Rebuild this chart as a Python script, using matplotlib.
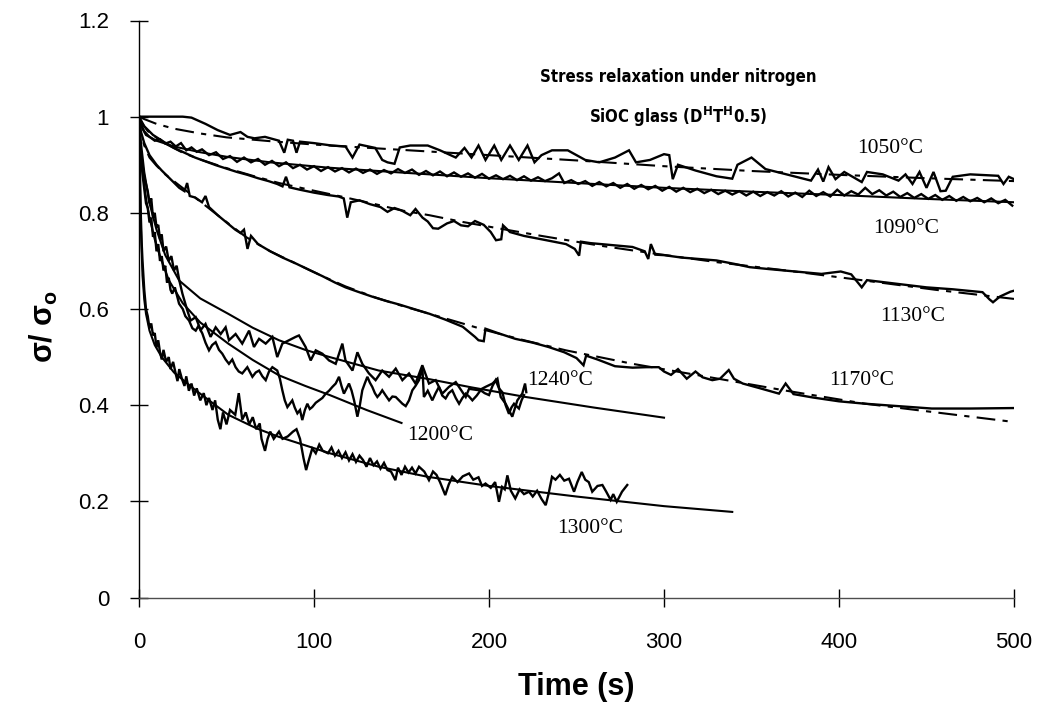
import matplotlib
matplotlib.use("Agg")
import matplotlib.pyplot as plt
from matplotlib import font_manager
from matplotlib.font_manager import FontProperties

# ---------------- data ----------------
x_ticks = [0, 100, 200, 300, 400, 500]
x_tick_labels = ["0", "100", "200", "300", "400", "500"]
y_ticks = [0, 0.2, 0.4, 0.6, 0.8, 1.0, 1.2]
y_tick_labels = ["0", "0.2", "0.4", "0.6", "0.8", "1", "1.2"]

# 1050 C
t1050_exp = [0, 10, 25, 30, 38, 45, 52, 58, 62, 66, 72, 80, 83, 85, 88, 90, 92, 100, 110, 118, 122, 126,
             135, 139, 142, 146, 149, 155, 165, 172, 181, 186, 190, 194, 198, 203, 207, 212, 217, 222, 226,
             230, 236, 245, 255, 263, 272, 280, 284, 292, 300, 303, 305, 308, 318, 330, 339, 342, 350, 358,
             370, 384, 388, 391, 394, 398, 403, 413, 416, 425, 434, 438, 442, 446, 450, 454, 458, 461, 465,
             475, 491, 494, 497, 500]
y1050_exp = [1.0, 1.0, 1.0, 0.998, 0.985, 0.972, 0.962, 0.968, 0.958, 0.955, 0.958, 0.95, 0.925, 0.952, 0.95,
             0.925, 0.948, 0.945, 0.94, 0.938, 0.915, 0.942, 0.935, 0.91, 0.905, 0.902, 0.936, 0.94, 0.94, 0.93,
             0.915, 0.935, 0.915, 0.94, 0.91, 0.94, 0.91, 0.94, 0.91, 0.94, 0.905, 0.92, 0.93, 0.93, 0.91, 0.905,
             0.915, 0.93, 0.905, 0.91, 0.922, 0.92, 0.87, 0.9, 0.888, 0.876, 0.871, 0.9, 0.915, 0.891, 0.88,
             0.867, 0.89, 0.865, 0.895, 0.87, 0.885, 0.864, 0.885, 0.88, 0.867, 0.88, 0.86, 0.885, 0.852, 0.885,
             0.845, 0.846, 0.875, 0.88, 0.877, 0.86, 0.875, 0.87]
t1050_fit = [0, 3, 10, 20, 35, 50, 75, 100, 150, 200, 250, 300, 350, 400, 450, 500]
y1050_fit = [1.0, 0.995, 0.985, 0.975, 0.965, 0.957, 0.949, 0.942, 0.931, 0.92, 0.909, 0.897, 0.887,
             0.879, 0.872, 0.866]

# 1090 C
t1090_exp = [0, 2, 4, 6, 9, 12, 15, 18, 21, 24, 27, 30, 33, 36, 40, 44, 48, 52, 56, 60, 64, 68, 72, 76, 80,
             84, 88, 92, 96, 100, 104, 108, 112, 116, 120, 124, 128, 132, 136, 140, 144, 148, 152, 156, 160,
             164, 168, 172, 176, 180, 184, 188, 192, 196, 200, 204, 208, 212, 216, 220, 224, 228, 232, 236,
             240, 243, 247, 251, 255, 259, 263, 267, 271, 275, 279, 283, 287, 291, 295, 299, 303, 307, 311,
             315, 319, 323, 327, 331, 335, 339, 343, 347, 351, 355, 359, 363, 367, 371, 375, 379, 383, 387,
             391, 395, 399, 403, 407, 411, 415, 419, 423, 427, 431, 435, 439, 443, 447, 451, 455, 459, 463,
             467, 471, 475, 479, 483, 487, 491, 495, 499]
y1090_exp = [1.0, 0.975, 0.962, 0.958, 0.95, 0.953, 0.944, 0.948, 0.938, 0.945, 0.93, 0.936, 0.927, 0.932,
             0.92, 0.926, 0.912, 0.918, 0.906, 0.915, 0.905, 0.912, 0.9, 0.908, 0.897, 0.905, 0.893, 0.9, 0.89,
             0.897, 0.887, 0.895, 0.886, 0.893, 0.884, 0.892, 0.883, 0.89, 0.881, 0.889, 0.882, 0.891, 0.883,
             0.89, 0.879, 0.887, 0.878, 0.886, 0.876, 0.884, 0.875, 0.882, 0.873, 0.881, 0.871, 0.878, 0.87,
             0.877, 0.868, 0.876, 0.867, 0.874, 0.866, 0.872, 0.882, 0.862, 0.868, 0.86, 0.866, 0.856, 0.864,
             0.855, 0.862, 0.852, 0.86, 0.85, 0.858, 0.849, 0.856, 0.846, 0.854, 0.844, 0.852, 0.843, 0.85,
             0.841, 0.848, 0.839, 0.846, 0.838, 0.845, 0.836, 0.844, 0.835, 0.843, 0.836, 0.845, 0.834, 0.842,
             0.833, 0.846, 0.835, 0.843, 0.834, 0.848, 0.836, 0.845, 0.838, 0.852, 0.839, 0.847, 0.836, 0.844,
             0.833, 0.841, 0.831, 0.839, 0.829, 0.837, 0.827, 0.835, 0.825, 0.833, 0.824, 0.831, 0.822, 0.83,
             0.82, 0.827, 0.815]
t1090_fit = [0, 1, 3, 6, 10, 20, 35, 51, 75, 108, 149, 200, 250, 300, 350, 400, 450, 500]
y1090_fit = [1.0, 0.985, 0.97, 0.958, 0.95, 0.938, 0.926, 0.916, 0.905, 0.894, 0.884, 0.872, 0.862, 0.852,
             0.844, 0.837, 0.829, 0.822]

# 1130 C
t1130_exp = [0, 3, 8, 14, 20, 26, 32, 38, 44, 50, 56, 62, 68, 74, 79, 82, 84, 86, 92, 100, 108, 114, 117,
             119, 121, 126, 132, 138, 142, 146, 150, 155, 158, 162, 165, 168, 171, 176, 180, 184, 188, 192,
             197, 201, 204, 207, 208, 212, 220, 230, 244, 249, 251.5, 252.5, 258, 270, 282, 289, 291, 292.5,
             295, 300, 310, 320, 330, 340, 349, 360, 375, 390, 401, 407, 413, 416, 425, 434, 450, 465, 482,
             486, 488, 492, 498, 500]
y1130_exp = [1.0, 0.98, 0.962, 0.948, 0.935, 0.925, 0.915, 0.907, 0.899, 0.892, 0.885, 0.879, 0.872, 0.866,
             0.86, 0.855, 0.875, 0.853, 0.848, 0.842, 0.837, 0.834, 0.83, 0.79, 0.822, 0.826, 0.818, 0.812,
             0.802, 0.81, 0.805, 0.795, 0.808, 0.79, 0.782, 0.768, 0.767, 0.778, 0.783, 0.774, 0.772, 0.783,
             0.775, 0.76, 0.743, 0.745, 0.774, 0.76, 0.752, 0.745, 0.735, 0.725, 0.711, 0.74, 0.737, 0.733,
             0.729, 0.72, 0.704, 0.735, 0.713, 0.712, 0.707, 0.704, 0.701, 0.694, 0.687, 0.683, 0.678, 0.673,
             0.678, 0.672, 0.645, 0.66, 0.656, 0.652, 0.645, 0.641, 0.635, 0.62, 0.614, 0.626, 0.636, 0.638]
t1130_fit = [0, 1, 3, 5, 10, 15, 25, 35, 50, 65, 80, 100, 118, 135, 150, 166, 185, 205, 230, 263, 295,
             331, 370, 415, 455, 500]
y1130_fit = [1.0, 0.99, 0.98, 0.97, 0.956, 0.944, 0.925, 0.911, 0.893, 0.877, 0.862, 0.846, 0.832, 0.818,
             0.805, 0.795, 0.781, 0.768, 0.752, 0.732, 0.715, 0.697, 0.68, 0.659, 0.64, 0.621]

# 1170 C
t1170_exp = [0, 1, 3, 6, 10, 13, 18, 23, 26, 27.5, 29, 32, 36, 38, 40, 45, 50, 55, 58, 60, 62, 64, 68, 75,
             82, 90, 98, 105, 112, 118, 125, 133, 141, 149, 157, 166, 175, 185, 192, 194, 197, 198, 205, 215,
             225, 234, 243, 250, 254, 255.5, 262, 272, 282, 290, 297, 300, 304, 308, 313, 318, 322, 327.6,
             332, 337, 340, 345, 355, 365.7, 369.5, 374, 385, 400, 415, 430, 453, 475, 500]
y1170_exp = [1.0, 0.97, 0.945, 0.92, 0.9, 0.888, 0.87, 0.852, 0.845, 0.862, 0.835, 0.832, 0.822, 0.835,
             0.812, 0.795, 0.78, 0.765, 0.758, 0.765, 0.725, 0.752, 0.735, 0.72, 0.707, 0.694, 0.68, 0.668,
             0.655, 0.645, 0.636, 0.626, 0.617, 0.609, 0.6, 0.59, 0.578, 0.563, 0.542, 0.535, 0.533, 0.559,
             0.55, 0.538, 0.53, 0.521, 0.51, 0.498, 0.483, 0.503, 0.495, 0.481, 0.478, 0.479, 0.479, 0.47,
             0.463, 0.475, 0.455, 0.47, 0.458, 0.452, 0.455, 0.473, 0.455, 0.445, 0.435, 0.424, 0.445, 0.423,
             0.416, 0.408, 0.403, 0.399, 0.393, 0.393, 0.394]
t1170_fit = [0, 1, 3, 6, 10, 15, 22, 32, 45, 61, 75, 90, 105, 118, 135, 149, 166, 198, 220, 244, 282, 331,
             370, 415, 453, 500]
y1170_fit = [1.0, 0.965, 0.94, 0.915, 0.898, 0.88, 0.86, 0.832, 0.795, 0.75, 0.72, 0.694, 0.668, 0.647,
             0.624, 0.608, 0.59, 0.556, 0.535, 0.514, 0.486, 0.455, 0.43, 0.403, 0.386, 0.365]

# 1200 C (lower band)
t1200_exp = [0, 0.5, 1, 2, 3, 4, 5, 6, 7, 8, 9, 10, 11, 12, 13, 14, 15, 16, 17, 18, 19, 20.5, 22.9, 25,
             26.5, 28.6, 30.5, 32.4, 34, 36.2, 38, 40, 41.8, 43.8, 45.7, 47.6, 49.5, 51.4, 53.3, 55.2, 57, 59,
             61.9, 64.8, 66.7, 68.6, 70.5, 72.4, 74.3, 76.2, 79, 80.5, 81.9, 83.3, 84.8, 87.6, 89, 90.5, 92,
             93.3, 94.8, 96.2, 97.6, 99, 101, 102.9, 104.8, 106.7, 108.6, 110.5, 112.4, 114.3, 115.7, 117.1,
             118.6, 120, 121.5, 122.9, 124.8, 126.2, 127.6, 129, 130.5, 131.9, 133.3, 134.8, 136.2, 137.6,
             139, 141, 142.9, 144.8, 146.7, 148.6, 150.5, 152.4, 154.3, 156.2, 158, 160, 161.9, 162.8, 165,
             167.6, 169.5, 171.4, 173.3, 175.2, 177, 179, 181, 182.9, 184.8, 186.7, 188.6, 190.5, 193, 195.2,
             197.5, 200, 202, 203.8, 205.7, 207.6, 209.5, 211.4, 212.8, 214.3, 215.7, 217.1, 218.6, 220]
y1200_exp = [1.0, 0.95, 0.92, 0.88, 0.85, 0.82, 0.81, 0.78, 0.79, 0.75, 0.76, 0.72, 0.735, 0.7, 0.71, 0.68,
             0.69, 0.655, 0.665, 0.64, 0.632, 0.645, 0.611, 0.6, 0.585, 0.576, 0.56, 0.555, 0.565, 0.549, 0.53,
             0.514, 0.525, 0.531, 0.515, 0.507, 0.495, 0.486, 0.495, 0.479, 0.47, 0.466, 0.479, 0.459, 0.468,
             0.472, 0.46, 0.452, 0.47, 0.479, 0.472, 0.455, 0.431, 0.41, 0.396, 0.41, 0.395, 0.383, 0.39,
             0.369, 0.39, 0.403, 0.392, 0.396, 0.405, 0.41, 0.415, 0.424, 0.43, 0.438, 0.445, 0.459, 0.44,
             0.424, 0.435, 0.445, 0.43, 0.41, 0.376, 0.4, 0.431, 0.445, 0.459, 0.447, 0.438, 0.425, 0.417,
             0.423, 0.431, 0.42, 0.41, 0.418, 0.417, 0.41, 0.403, 0.398, 0.41, 0.431, 0.44, 0.452, 0.479,
             0.417, 0.43, 0.41, 0.425, 0.438, 0.42, 0.414, 0.425, 0.431, 0.415, 0.403, 0.415, 0.424, 0.418,
             0.41, 0.42, 0.431, 0.425, 0.421, 0.44, 0.452, 0.435, 0.427, 0.4, 0.382, 0.395, 0.403, 0.398,
             0.393, 0.41, 0.421]
t1200_fit = [0, 1, 2, 4, 6, 9, 12, 17, 25, 35, 51, 65, 80, 95, 109, 130, 150]
y1200_fit = [1.0, 0.93, 0.89, 0.83, 0.79, 0.745, 0.71, 0.66, 0.612, 0.572, 0.528, 0.494, 0.462, 0.44,
             0.421, 0.39, 0.363]

# 1240 C (upper band)
t1240_exp = [0, 0.5, 1, 2, 3, 4, 5, 6, 7, 8, 9, 10, 11, 12, 13, 14, 15.5, 17, 18.5, 20, 21.5, 23, 24.8,
             27.6, 29.5, 32.4, 35.2, 38, 40.9, 43.8, 46.7, 49.5, 51.4, 55.2, 59, 62.9, 65.7, 68.6, 72.4, 76.2,
             79, 81.9, 85.7, 89.5, 91.4, 95.2, 98.1, 101, 104.8, 108.6, 112.4, 116.2, 118, 122, 124.8, 127.6,
             131.4, 135.2, 139, 142.9, 146.7, 150.5, 154.3, 158, 161.9, 165.7, 169.5, 173.3, 177.1, 181,
             186.7, 188.6, 194.3, 198, 202, 204.8, 206.7, 209.5, 213.3, 216.2, 219, 220.6, 221.3]
y1240_exp = [1.0, 0.96, 0.93, 0.9, 0.875, 0.86, 0.845, 0.82, 0.83, 0.79, 0.8, 0.77, 0.775, 0.745, 0.755,
             0.72, 0.73, 0.7, 0.71, 0.68, 0.69, 0.66, 0.632, 0.597, 0.576, 0.583, 0.556, 0.569, 0.542, 0.562,
             0.548, 0.562, 0.535, 0.548, 0.528, 0.555, 0.521, 0.538, 0.528, 0.542, 0.5, 0.528, 0.535, 0.542,
             0.545, 0.521, 0.493, 0.514, 0.507, 0.493, 0.486, 0.528, 0.493, 0.472, 0.51, 0.486, 0.466, 0.452,
             0.472, 0.459, 0.476, 0.452, 0.466, 0.445, 0.483, 0.445, 0.452, 0.424, 0.438, 0.448, 0.417, 0.434,
             0.431, 0.438, 0.445, 0.455, 0.417, 0.403, 0.376, 0.41, 0.424, 0.445, 0.427]
t1240_fit = [0, 1, 3, 6, 10, 15, 23, 35, 51, 65, 80, 95, 109, 137, 166, 190, 221, 260, 300]
y1240_fit = [1.0, 0.95, 0.885, 0.82, 0.765, 0.712, 0.659, 0.622, 0.59, 0.561, 0.535, 0.515, 0.5, 0.472,
             0.454, 0.437, 0.417, 0.395, 0.374]

# 1300 C
t1300_exp = [0, 0.5, 1, 1.5, 2, 3, 4, 5, 6, 7, 8, 9, 10, 11, 12, 13, 14, 15.5, 17, 18, 19.5, 21, 22, 23,
             24.5, 26, 27, 28.5, 30, 31.5, 33, 35, 37, 38.5, 40, 42, 43.5, 45, 46.5, 48, 50, 52, 55, 57, 59,
             61, 63, 65, 67, 69, 70, 72, 73.5, 75, 77, 80, 82, 85, 88, 90, 92, 94, 95.5, 97, 99, 101, 103, 105,
             108, 110, 112, 114, 116, 118, 120, 122, 124, 126, 128, 130, 132, 134, 136, 138, 140, 142, 144,
             146.5, 148, 150, 152, 154, 156, 158, 160, 163, 165.7, 168, 170, 172, 175, 177, 179, 182, 185,
             188.6, 191, 194, 196, 198, 201, 203.5, 205.7, 207.5, 209, 210.5, 212.5, 215, 217.5, 220, 222.9,
             225, 227.5, 230, 232.4, 234, 236, 238, 240.5, 243, 245.7, 248.6, 250.5, 253, 255, 257, 259, 262,
             264.8, 267, 269.5, 271, 273, 276, 279]
y1300_exp = [1.0, 0.9, 0.8, 0.74, 0.7, 0.64, 0.6, 0.585, 0.56, 0.57, 0.545, 0.55, 0.52, 0.535, 0.51, 0.495,
             0.515, 0.49, 0.5, 0.475, 0.49, 0.465, 0.45, 0.475, 0.455, 0.44, 0.46, 0.43, 0.445, 0.42, 0.435,
             0.41, 0.425, 0.4, 0.415, 0.39, 0.41, 0.37, 0.35, 0.385, 0.36, 0.39, 0.38, 0.425, 0.37, 0.385,
             0.36, 0.375, 0.35, 0.362, 0.33, 0.305, 0.33, 0.345, 0.33, 0.345, 0.33, 0.335, 0.345, 0.35, 0.33,
             0.29, 0.265, 0.285, 0.31, 0.3, 0.318, 0.305, 0.3, 0.312, 0.295, 0.305, 0.29, 0.302, 0.285, 0.298,
             0.282, 0.295, 0.286, 0.272, 0.29, 0.275, 0.283, 0.268, 0.28, 0.265, 0.262, 0.244, 0.27, 0.255,
             0.272, 0.26, 0.27, 0.258, 0.272, 0.262, 0.244, 0.262, 0.255, 0.24, 0.213, 0.235, 0.251, 0.24,
             0.252, 0.258, 0.245, 0.25, 0.232, 0.237, 0.228, 0.24, 0.199, 0.23, 0.225, 0.254, 0.222, 0.206,
             0.225, 0.215, 0.22, 0.21, 0.222, 0.205, 0.192, 0.215, 0.251, 0.245, 0.255, 0.243, 0.247, 0.22,
             0.24, 0.261, 0.245, 0.24, 0.22, 0.232, 0.234, 0.22, 0.203, 0.215, 0.199, 0.22, 0.234]
t1300_fit = [0, 0.5, 1, 2, 3, 4, 6, 9, 13, 20, 32, 51, 67, 80, 109, 137, 165, 200, 250, 300, 339]
y1300_fit = [1.0, 0.86, 0.78, 0.67, 0.62, 0.59, 0.555, 0.525, 0.5, 0.468, 0.432, 0.38, 0.352, 0.334, 0.3,
             0.272, 0.251, 0.232, 0.21, 0.19, 0.178]

temp_labels = ["1050°C", "1090°C", "1130°C", "1170°C", "1240°C", "1200°C", "1300°C"]
label_x = [429, 438.6, 442, 412.9, 240.7, 171.9, 258]
label_y = [0.934, 0.767, 0.585, 0.452, 0.452, 0.337, 0.144]

title_lines = ["Stress relaxation under nitrogen",
               r"SiOC glass (D$^{\mathbf{H}}$T$^{\mathbf{H}}$0.5)"]
title_x = 308
title_y = [1.083, 1.0]

# ---------------- fonts ----------------
def find_condensed_bold():
    best = None
    for f in font_manager.fontManager.ttflist:
        nm = f.name.lower()
        st = f.stretch
        cond = ("narrow" in nm or "condensed" in nm or " cond" in nm
                or (isinstance(st, str) and "condensed" in st and "semi" not in st)
                or (isinstance(st, (int, float)) and st < 450))
        if not cond:
            continue
        w = f.weight
        bold = (isinstance(w, str) and "bold" in w and "semi" not in w) or \
               (isinstance(w, (int, float)) and 650 <= w <= 750)
        if bold and (f.style == "normal"):
            pri = 0 if ("liberation" in nm or "arial" in nm) else 1
            if best is None or pri < best[0]:
                best = (pri, f.fname)
    return best[1] if best else None

cond_file = find_condensed_bold()
if cond_file:
    title_fp = FontProperties(fname=cond_file, size=12)
else:
    title_fp = FontProperties(family="Liberation Sans", weight="bold", size=11.5)

plt.rcParams["font.family"] = ["Liberation Sans", "DejaVu Sans"]
plt.rcParams["mathtext.fontset"] = "custom"
if cond_file:
    plt.rcParams["mathtext.rm"] = FontProperties(fname=cond_file).get_name()
    plt.rcParams["mathtext.bf"] = FontProperties(fname=cond_file).get_name() + ":bold"
else:
    plt.rcParams["mathtext.rm"] = "Liberation Sans"
    plt.rcParams["mathtext.bf"] = "Liberation Sans:bold"
plt.rcParams["mathtext.it"] = "Liberation Sans:italic"

# ---------------- figure ----------------
fig = plt.figure(figsize=(10.44, 7.14), dpi=100)
fig.patch.set_facecolor("white")
ax = fig.add_axes([139 / 1044, 1 - 597.5 / 714, 875 / 1044, 577 / 714])

exp_kw = dict(color="black", lw=1.7, solid_joinstyle="miter")
fit_solid = dict(color="black", lw=1.5)
fit_dash = dict(color="black", lw=1.5, linestyle=(0, (9, 3.5, 2.5, 3.5)))

ax.plot(t1050_exp, y1050_exp, **exp_kw)
ax.plot(t1050_fit, y1050_fit, **fit_dash)
ax.plot(t1090_exp, y1090_exp, **exp_kw)
ax.plot(t1090_fit, y1090_fit, **fit_solid)
ax.plot(t1130_exp, y1130_exp, **exp_kw)
ax.plot(t1130_fit, y1130_fit, **fit_dash)
ax.plot(t1170_exp, y1170_exp, **exp_kw)
ax.plot(t1170_fit, y1170_fit, **fit_dash)
ax.plot(t1200_exp, y1200_exp, **exp_kw)
ax.plot(t1200_fit, y1200_fit, **fit_solid)
ax.plot(t1240_exp, y1240_exp, **exp_kw)
ax.plot(t1240_fit, y1240_fit, **fit_solid)
ax.plot(t1300_exp, y1300_exp, **exp_kw)
ax.plot(t1300_fit, y1300_fit, **fit_solid)

ax.set_xlim(0, 500)
ax.set_ylim(0, 1.2)
for s in ("top", "right"):
    ax.spines[s].set_visible(False)
ax.spines["left"].set_color("black")
ax.spines["left"].set_linewidth(1.0)
ax.spines["bottom"].set_color("0.3")
ax.spines["bottom"].set_linewidth(1.0)

ax.set_xticks(x_ticks)
ax.set_xticklabels(x_tick_labels)
ax.set_yticks(y_ticks)
ax.set_yticklabels(y_tick_labels)
ax.tick_params(axis="both", direction="inout", length=13, width=1, colors="black",
               labelsize=16)
ax.tick_params(axis="x", pad=18)
ax.tick_params(axis="y", pad=15)

for tx, ty, lab in zip(label_x, label_y, temp_labels):
    ax.text(tx, ty, lab, ha="center", va="center", fontsize=15.5,
            family=["Liberation Serif", "DejaVu Serif"])

ax.text(title_x, title_y[0], title_lines[0], ha="center", va="center", fontproperties=title_fp)
ax.text(title_x, title_y[1], title_lines[1], ha="center", va="center", fontproperties=title_fp)

ax.set_xlabel("Time (s)", fontsize=22, fontweight="bold", labelpad=14)
ax.set_ylabel(r"σ/ σ$_\mathregular{o}$", fontsize=22, fontweight="bold", labelpad=12)
ax.yaxis.set_label_coords(-0.09, 0.47)

fig.savefig("out.png", dpi=100, facecolor="white")
